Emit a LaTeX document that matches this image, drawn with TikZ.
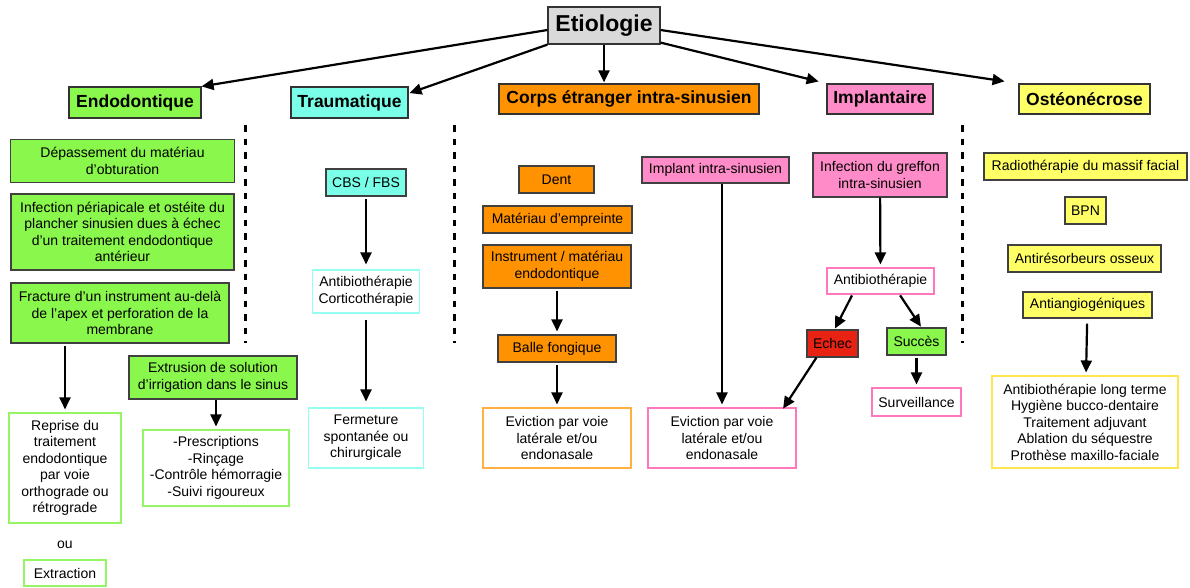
\documentclass[tikz,border=0pt]{standalone}
\usepackage{fontspec}
\setmainfont{Liberation Sans}
\usepackage{xcolor}
\usetikzlibrary{arrows.meta, positioning, calc}

\definecolor{greenfill}{RGB}{137,247,75}
\definecolor{cyanfill}{RGB}{122,255,233}
\definecolor{orangefill}{RGB}{255,146,0}
\definecolor{pinkfill}{RGB}{255,140,200}
\definecolor{yellowfill}{RGB}{255,255,102}
\definecolor{redfill}{RGB}{232,35,20}
\definecolor{grayfill}{RGB}{217,217,217}
\definecolor{greenline}{RGB}{150,245,100}
\definecolor{cyanline}{RGB}{150,255,240}
\definecolor{orangeline}{RGB}{255,176,64}
\definecolor{pinkline}{RGB}{255,120,190}
\definecolor{yellowline}{RGB}{255,230,80}

\begin{document}
\begin{tikzpicture}[
    x=1pt, y=-1pt,
    wh/.style 2 args={minimum width=#1pt, minimum height=#2pt},
    head/.style={rectangle, draw=black!80, line width=1.2pt, inner sep=0pt, align=center, font=\fontsize{17.5}{20}\selectfont\bfseries},
    cause/.style={rectangle, draw=black!75, line width=1.1pt, inner sep=0pt, align=center, font=\fontsize{14}{16.5}\selectfont},
    care/.style={rectangle, fill=white, line width=1.1pt, inner sep=0pt, align=center, font=\fontsize{14}{16.5}\selectfont},
    arr/.style={-{Triangle[length=12pt, width=11pt]}, line width=2.2pt, shorten <=2pt, shorten >=3pt},
    sep/.style={line width=3pt, dash pattern=on 6.5pt off 7pt}
]
\useasboundingbox (0,0) rectangle (1190,587);

% Top: root and the five causes
\node[head, fill=grayfill, wh={112}{37}, font=\fontsize{23}{26}\selectfont\bfseries] (etio) at (604,25.5) {Etiologie};
\node[head, fill=greenfill, wh={132}{31}] (endo) at (135,102.5) {Endodontique};
\node[head, fill=cyanfill, wh={117}{31}] (trauma) at (349.5,102.5) {Traumatique};
\node[head, fill=orangefill, wh={260}{30}] (corps) at (629,99) {Corps étranger intra-sinusien};
\node[head, fill=pinkfill, wh={106}{30}] (impl) at (880,99) {Implantaire};
\node[head, fill=yellowfill, wh={131}{30}] (osteo) at (1084.5,99) {Ostéonécrose};

% Separators
\draw[sep] (245,125) -- (245,343);
\draw[sep] (454,125) -- (454,343);
\draw[sep] (962,125) -- (962,343);

% Endodontique
\node[cause, fill=greenfill, wh={224}{43}] (dep) at (122.5,161) {Dépassement du matériau\\d’obturation};
\node[cause, fill=greenfill, wh={223}{76}] (infp) at (122.5,232) {Infection périapicale et ostéite du\\plancher sinusien dues à échec\\d’un traitement endodontique\\antérieur};
\node[cause, fill=greenfill, wh={218}{60}] (fract) at (120,313) {Fracture d’un instrument au-delà\\de l’apex et perforation de la\\membrane};
\node[care, draw=greenline, wh={112}{110}] (reprise) at (65,468) {Reprise du\\traitement\\endodontique\\par voie\\orthograde ou\\rétrograde};
\node[font=\fontsize{14}{16.5}\selectfont] (ou) at (65,545) {ou};
\node[care, draw=greenline, wh={82}{26}] (extract) at (65,573) {Extraction};
\node[cause, fill=greenfill, wh={168}{43}] (extr) at (213,377.5) {Extrusion de solution\\d’irrigation dans le sinus};
\node[care, draw=greenline, wh={146}{76}] (presc) at (216,468) {-Prescriptions\\-Rinçage\\-Contrôle hémorragie\\-Suivi rigoureux};

% Traumatique
\node[cause, fill=cyanfill, wh={80}{27}] (cbs) at (366,182.5) {CBS / FBS};
\node[care, draw=cyanline, wh={107}{43}] (anti1) at (366,291.5) {Antibiothérapie\\Corticothérapie};
\node[care, draw=cyanline, wh={115}{60}] (ferm) at (366,438) {Fermeture\\spontanée ou\\chirurgicale};

% Corps etranger
\node[cause, fill=orangefill, wh={75}{27}] (dent) at (556.5,179.5) {Dent};
\node[cause, fill=orangefill, wh={149}{27}] (emp) at (557.5,219.5) {Matériau d’empreinte};
\node[cause, fill=orangefill, wh={148}{43}] (instr) at (557,266.5) {Instrument / matériau\\endodontique};
\node[cause, fill=orangefill, wh={118}{27}] (balle) at (557,348.5) {Balle fongique};
\node[care, draw=orangeline, wh={148}{60}] (evic1) at (557,438) {Eviction par voie\\latérale et/ou\\endonasale};
\node[cause, fill=pinkfill, wh={147}{26}] (implant) at (715.5,170) {Implant intra-sinusien};
\node[care, draw=pinkline, wh={148}{60}] (evic2) at (722,438) {Eviction par voie\\latérale et/ou\\endonasale};

% Implantaire
\node[cause, fill=pinkfill, wh={134}{44}] (infg) at (880,175) {Infection du greffon\\intra-sinusien};
\node[care, draw=pinkline, wh={107}{26}] (anti2) at (880.5,281) {Antibiothérapie};
\node[cause, fill=redfill, wh={51}{27}] (echec) at (832.5,343.5) {Echec};
\node[cause, fill=greenfill, wh={59}{27}] (succes) at (916.5,341.5) {Succès};
\node[care, draw=pinkline, wh={89}{28}] (surv) at (916.5,402) {Surveillance};

% Osteonecrose
\node[cause, fill=yellowfill, wh={203}{27}] (radio) at (1085.5,166.5) {Radiothérapie du massif facial};
\node[cause, fill=yellowfill, wh={41}{27}] (bpn) at (1085.5,210.5) {BPN};
\node[cause, fill=yellowfill, wh={153}{27}] (antir) at (1084.5,258.5) {Antirésorbeurs osseux};
\node[cause, fill=yellowfill, wh={129}{26}] (antia) at (1087.5,305) {Antiangiogéniques};
\node[care, draw=yellowline, wh={186}{92}] (final) at (1085,422) {Antibiothérapie long terme\\Hygiène bucco-dentaire\\Traitement adjuvant\\Ablation du séquestre\\Prothèse maxillo-faciale};

% Root arrows
\draw[arr, shorten <=0pt, shorten >=0pt] ([yshift=-4.5pt]etio.west) -- (endo.north east);
\draw[arr, shorten <=0pt, shorten >=1pt] (etio.south west) -- ([yshift=-7pt]trauma.north east);
\draw[arr, shorten <=0pt, shorten >=1pt] (etio.south) -- (etio.south |- corps.north);
\draw[arr, shorten <=0pt, shorten >=8pt] ([yshift=2pt]etio.south east) -- (impl.north west);
\draw[arr, shorten <=0pt, shorten >=14pt] ([yshift=-4.5pt]etio.east) -- (osteo.north west);

% Column arrows
\draw[arr] (fract.south -| reprise.north) -- (reprise.north);
\draw[arr, shorten <=0pt] (extr.south -| presc.north) -- (presc.north);
\draw[arr, shorten >=5pt] (cbs) -- (anti1);
\draw[arr, shorten <=6pt, shorten >=6pt] (anti1) -- (ferm);
\draw[arr] (instr) -- (balle);
\draw[arr] (balle) -- (evic1);
\draw[arr, shorten <=0pt] (implant.south -| evic2.north) -- (evic2.north);
\draw[arr, shorten <=0pt] (infg) -- (anti2);
\draw[arr, shorten <=1pt, shorten >=1pt] ($(anti2.south west)+(26,0)$) -- ([xshift=2pt]echec.north);
\draw[arr, shorten <=1pt, shorten >=1pt] ($(anti2.south east)+(-35,0)$) -- ([xshift=5pt]succes.north);
\draw[arr] (succes) -- (surv);
\draw[arr, shorten <=0pt, shorten >=1pt] ($(echec.south west)+(10,0)$) -- ($(evic2.north east)+(-14,2)$);
\draw[arr, shorten <=5pt] (antia) -- (final);

\end{tikzpicture}
\end{document}
